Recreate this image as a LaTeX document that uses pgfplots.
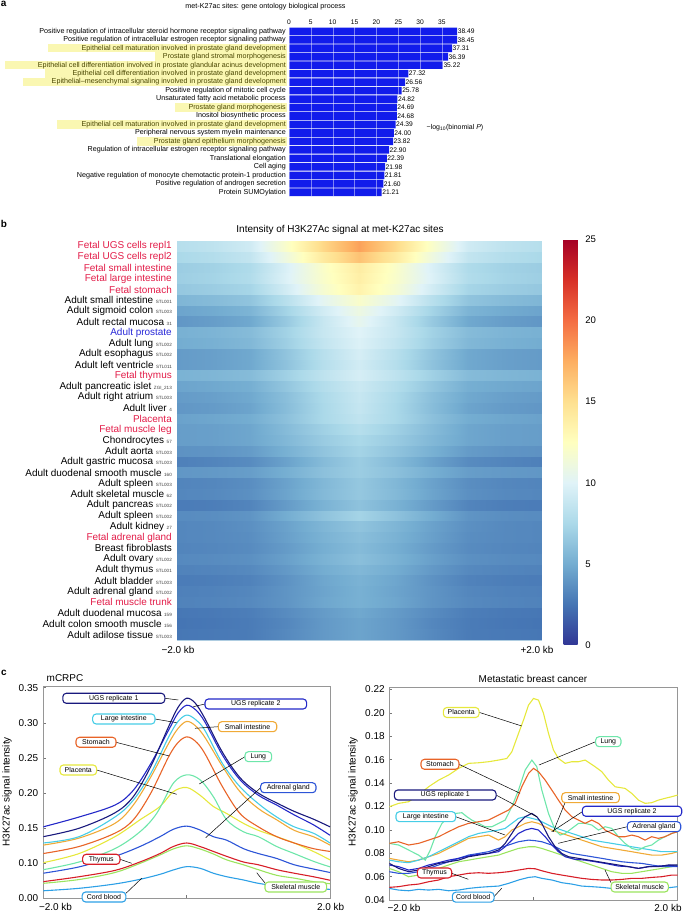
\documentclass[border=0pt]{standalone}
\usepackage{fontspec}
\setmainfont{Liberation Sans}
\usepackage{pgfplots}
\pgfplotsset{compat=1.18}
\pgfkeys{/pgf/number format/assume math mode=true}
\definecolor{barblue}{RGB}{18,28,235}
\definecolor{hly}{RGB}{240,230,0}
\definecolor{fred}{RGB}{226,28,72}
\definecolor{pblue}{RGB}{40,40,215}
\definecolor{hmframe}{RGB}{175,205,225}
\definecolor{axgrey}{RGB}{150,150,150}
\definecolor{tkgrey}{RGB}{120,120,120}
\definecolor{sfxgrey}{RGB}{60,60,60}
\definecolor{cUa}{RGB}{25,25,125}
\definecolor{cUb}{RGB}{35,40,200}
\definecolor{cLI}{RGB}{70,205,230}
\definecolor{cSI}{RGB}{240,170,55}
\definecolor{cST}{RGB}{232,100,40}
\definecolor{cLU}{RGB}{110,230,170}
\definecolor{cPL}{RGB}{230,232,60}
\definecolor{cAD}{RGB}{45,85,215}
\definecolor{cTH}{RGB}{215,30,40}
\definecolor{cSK}{RGB}{155,228,95}
\definecolor{cCB}{RGB}{45,160,230}
\newcommand\fs[1]{\fontsize{#1}{#1}\selectfont}
\newcommand\sfx[1]{{\fontsize{4.6}{5}\selectfont\color{sfxgrey}\hspace{2.5bp}#1}}
\newcommand\fe[1]{\textcolor{fred}{#1}}
\tikzset{box/.style={draw=#1, line width=1.1bp, rounded corners=3.5bp, fill=white, minimum height=10bp, inner sep=0pt, font=\fs{7}, text=black},
conn/.style={line width=0.5bp, black}}
\begin{document}
\begin{tikzpicture}[x=1bp,y=1bp]
\path[use as bounding box] (0,0) rectangle (685,913);
% ---------------- panel a ----------------
\node[font=\bfseries\fs{10}, anchor=north west, inner sep=0pt] at (0.8,912.2) {a};
\node[font=\fs{7.2}] at (265.5,906) {met-K27ac sites: gene ontology biological process};
\begin{axis}[
  at={(289bp,716.5bp)}, anchor=south west, scale only axis,
  width=174.8bp, height=169.4bp,
  xmin=0, xmax=40, ymin=0.5, ymax=20.5, y dir=reverse,
  axis line style={draw=none}, major tick length=0pt,
  xtick={0,5,10,15,20,25,30,35}, xtick pos=right, xticklabel pos=right,
  xticklabel style={font=\fs{6.7}, inner sep=0pt, yshift=2bp},
  ytick={1,...,20}, ytick pos=left,
  yticklabel style={font=\fs{7.2}, inner sep=0pt, xshift=-3bp},
  yticklabels={
    {Positive regulation of intracellular steroid hormone receptor signaling pathway},
    {Positive regulation of intracellular estrogen receptor signaling pathway},
    {Epithelial cell maturation involved in prostate gland development},
    {Prostate gland stromal morphogenesis},
    {Epithelial cell differentiation involved in prostate glandular acinus development},
    {Epithelial cell differentiation involved in prostate gland development},
    {Epithelial–mesenchymal signaling involved in prostate gland development},
    {Positive regulation of mitotic cell cycle},
    {Unsaturated fatty acid metabolic process},
    {Prostate gland morphogenesis},
    {Inositol biosynthetic process},
    {Epithelial cell maturation involved in prostate gland development},
    {Peripheral nervous system myelin maintenance},
    {Prostate gland epithelium morphogenesis},
    {Regulation of intracellular estrogen receptor signaling pathway},
    {Translational elongation},
    {Cell aging},
    {Negative regulation of monocyte chemotactic protein-1 production},
    {Positive regulation of androgen secretion},
    {Protein SUMOylation}},
  xmajorgrids, grid style={white, line width=0.35bp, opacity=0.45},
  axis on top, clip=false,
]
\addplot[xbar, bar width=7.6bp, fill=barblue, draw=none, point meta=x,
  nodes near coords={\pgfmathprintnumber[fixed,fixed zerofill,precision=2]{\pgfplotspointmeta}},
  every node near coord/.append style={anchor=west, font=\fs{6.7}, inner sep=0.4bp, black}]
coordinates {(38.49,1) (38.45,2) (37.31,3) (36.39,4) (35.22,5) (27.32,6) (26.56,7) (25.78,8) (24.82,9) (24.69,10) (24.68,11) (24.39,12) (24.00,13) (23.82,14) (22.90,15) (22.39,16) (21.98,17) (21.81,18) (21.60,19) (21.21,20)};
\end{axis}
\begin{scope}[fill=hly, fill opacity=0.3]
\fill (48,869.0) rectangle (286.5,860.5);
\fill (155,860.5) rectangle (286.5,852.05);
\fill (5,852.05) rectangle (286.5,843.6);
\fill (45,843.6) rectangle (286.5,835.1);
\fill (23,835.1) rectangle (286.5,826.65);
\fill (175,809.7) rectangle (286.5,801.25);
\fill (57,792.75) rectangle (286.5,784.3);
\fill (137,775.8) rectangle (286.5,767.35);
\end{scope}
\node[font=\fs{7}] at (455,785) {−log\textsubscript{10}(binomial \textit{P})};
% ---------------- panel b ----------------
\node[font=\bfseries\fs{10}] at (4,689) {b};
\node[font=\fs{10}] at (340,683) {Intensity of H3K27Ac signal at met-K27ac sites};
\begin{axis}[
  at={(177bp,273bp)}, anchor=south west, scale only axis, width=364bp, height=399bp,
  xmin=-2, xmax=2, ymin=0.5, ymax=37.5, y dir=reverse,
  colormap={rdylbu}{rgb255=(49,54,149) rgb255=(69,117,180) rgb255=(116,173,209) rgb255=(171,217,233) rgb255=(224,243,248) rgb255=(255,255,191) rgb255=(254,224,144) rgb255=(253,174,97) rgb255=(244,109,67) rgb255=(215,48,39) rgb255=(165,0,38)},
  point meta min=0, point meta max=25,
  xtick=\empty, ytick={1,...,37}, major tick length=0pt,
  axis line style={draw=hmframe, line width=0.6bp},
  yticklabel style={font=\fs{10}, inner sep=0pt, xshift=-5bp},
  yticklabels={
    {\fe{Fetal UGS cells repl1}},{\fe{Fetal UGS cells repl2}},{\fe{Fetal small intestine}},{\fe{Fetal large intestine}},{\fe{Fetal stomach}},
    {Adult small intestine\sfx{STL001}},{Adult sigmoid colon\sfx{STL003}},{Adult rectal mucosa\sfx{31}},{\textcolor{pblue}{Adult prostate}},
    {Adult lung\sfx{STL002}},{Adult esophagus\sfx{STL002}},{Adult left ventricle\sfx{STL011}},{\fe{Fetal thymus}},
    {Adult pancreatic islet\sfx{ZGI\_213}},{Adult right atrium\sfx{STL003}},{Adult liver\sfx{4}},{\fe{Placenta}},{\fe{Fetal muscle leg}},
    {Chondrocytes\sfx{57}},{Adult aorta\sfx{STL003}},{Adult gastric mucosa\sfx{STL003}},{Adult duodenal smooth muscle\sfx{160}},
    {Adult spleen\sfx{STL003}},{Adult skeletal muscle\sfx{62}},{Adult pancreas\sfx{STL002}},{Adult spleen\sfx{STL002}},{Adult kidney\sfx{27}},
    {\fe{Fetal adrenal gland}},{Breast fibroblasts},{Adult ovary\sfx{STL002}},{Adult thymus\sfx{STL001}},{Adult bladder\sfx{STL003}},
    {Adult adrenal gland\sfx{STL002}},{\fe{Fetal muscle trunk}},{Adult duodenal mucosa\sfx{159}},{Adult colon smooth muscle\sfx{156}},
    {Adult adilose tissue\sfx{STL003}}},
  colorbar,
  colorbar style={at={(parent axis.north east)}, anchor=north west, xshift=14bp, yshift=1.7bp,
    scale only axis, width=17.3bp, height=405.7bp, ytick={0,5,10,15,20,25},
    major tick length=0pt, axis line style={draw=none},
    yticklabel style={font=\fs{9.6}, inner sep=0pt, xshift=4.4bp}},
]
\addplot[surf, shader=interp, mesh/cols=11, point meta=explicit]
table[header=false, row sep=\\, x expr={-2+0.4*mod(\coordindex,11)}, y expr={ceil(floor((\coordindex+0.5)/11)/2)+0.5}, meta index=0]{
8\\8.4\\9.2\\12\\15.4\\18\\15.4\\12\\9.2\\8.4\\8\\
8\\8.4\\9.2\\12\\15.4\\18\\15.4\\12\\9.2\\8.4\\8\\
7.5\\7.9\\8.6\\11.1\\14.2\\16.5\\14.2\\11.1\\8.6\\7.9\\7.5\\
7.5\\7.9\\8.6\\11.1\\14.2\\16.5\\14.2\\11.1\\8.6\\7.9\\7.5\\
6.8\\7.1\\7.7\\9.7\\12.1\\14\\12.1\\9.7\\7.7\\7.1\\6.8\\
6.8\\7.1\\7.7\\9.7\\12.1\\14\\12.1\\9.7\\7.7\\7.1\\6.8\\
6.9\\7.2\\7.8\\9.8\\12\\13.8\\12\\9.8\\7.8\\7.2\\6.9\\
6.9\\7.2\\7.8\\9.8\\12\\13.8\\12\\9.8\\7.8\\7.2\\6.9\\
6.5\\6.8\\7.3\\9.3\\11.7\\13.5\\11.7\\9.3\\7.3\\6.8\\6.5\\
6.5\\6.8\\7.3\\9.3\\11.7\\13.5\\11.7\\9.3\\7.3\\6.8\\6.5\\
5.5\\5.8\\6.3\\8.1\\10.3\\12\\10.3\\8.1\\6.3\\5.8\\5.5\\
5.5\\5.8\\6.3\\8.1\\10.3\\12\\10.3\\8.1\\6.3\\5.8\\5.5\\
4.6\\4.9\\5.4\\7.2\\9.3\\11\\9.3\\7.2\\5.4\\4.9\\4.6\\
4.6\\4.9\\5.4\\7.2\\9.3\\11\\9.3\\7.2\\5.4\\4.9\\4.6\\
4\\4.3\\4.8\\6.6\\8.8\\10.5\\8.8\\6.6\\4.8\\4.3\\4\\
4\\4.3\\4.8\\6.6\\8.8\\10.5\\8.8\\6.6\\4.8\\4.3\\4\\
5.2\\5.4\\5.8\\7.1\\8.8\\10\\8.8\\7.1\\5.8\\5.4\\5.2\\
5.2\\5.4\\5.8\\7.1\\8.8\\10\\8.8\\7.1\\5.8\\5.4\\5.2\\
5\\5.2\\5.6\\6.9\\8.6\\9.8\\8.6\\6.9\\5.6\\5.2\\5\\
5\\5.2\\5.6\\6.9\\8.6\\9.8\\8.6\\6.9\\5.6\\5.2\\5\\
4.2\\4.4\\4.8\\6.3\\8.1\\9.5\\8.1\\6.3\\4.8\\4.4\\4.2\\
4.2\\4.4\\4.8\\6.3\\8.1\\9.5\\8.1\\6.3\\4.8\\4.4\\4.2\\
4.2\\4.4\\4.8\\6.2\\8\\9.3\\8\\6.2\\4.8\\4.4\\4.2\\
4.2\\4.4\\4.8\\6.2\\8\\9.3\\8\\6.2\\4.8\\4.4\\4.2\\
5.3\\5.5\\5.8\\7\\8.4\\9.5\\8.4\\7\\5.8\\5.5\\5.3\\
5.3\\5.5\\5.8\\7\\8.4\\9.5\\8.4\\7\\5.8\\5.5\\5.3\\
4.6\\4.8\\5.1\\6.4\\7.9\\9\\7.9\\6.4\\5.1\\4.8\\4.6\\
4.6\\4.8\\5.1\\6.4\\7.9\\9\\7.9\\6.4\\5.1\\4.8\\4.6\\
4.2\\4.4\\4.8\\6\\7.6\\8.8\\7.6\\6\\4.8\\4.4\\4.2\\
4.2\\4.4\\4.8\\6\\7.6\\8.8\\7.6\\6\\4.8\\4.4\\4.2\\
4\\4.2\\4.6\\5.9\\7.5\\8.7\\7.5\\5.9\\4.6\\4.2\\4\\
4\\4.2\\4.6\\5.9\\7.5\\8.7\\7.5\\5.9\\4.6\\4.2\\4\\
4.5\\4.7\\5\\6.1\\7.5\\8.5\\7.5\\6.1\\5\\4.7\\4.5\\
4.5\\4.7\\5\\6.1\\7.5\\8.5\\7.5\\6.1\\5\\4.7\\4.5\\
4.3\\4.4\\4.7\\5.8\\7\\8\\7\\5.8\\4.7\\4.4\\4.3\\
4.3\\4.4\\4.7\\5.8\\7\\8\\7\\5.8\\4.7\\4.4\\4.3\\
4.3\\4.4\\4.7\\5.6\\6.7\\7.5\\6.7\\5.6\\4.7\\4.4\\4.3\\
4.3\\4.4\\4.7\\5.6\\6.7\\7.5\\6.7\\5.6\\4.7\\4.4\\4.3\\
3.8\\3.9\\4.2\\5.2\\6.3\\7.2\\6.3\\5.2\\4.2\\3.9\\3.8\\
3.8\\3.9\\4.2\\5.2\\6.3\\7.2\\6.3\\5.2\\4.2\\3.9\\3.8\\
3\\3.2\\3.5\\4.5\\5.8\\6.8\\5.8\\4.5\\3.5\\3.2\\3\\
3\\3.2\\3.5\\4.5\\5.8\\6.8\\5.8\\4.5\\3.5\\3.2\\3\\
4\\4.1\\4.3\\5.1\\6.1\\6.8\\6.1\\5.1\\4.3\\4.1\\4\\
4\\4.1\\4.3\\5.1\\6.1\\6.8\\6.1\\5.1\\4.3\\4.1\\4\\
3.2\\3.3\\3.6\\4.5\\5.6\\6.5\\5.6\\4.5\\3.6\\3.3\\3.2\\
3.2\\3.3\\3.6\\4.5\\5.6\\6.5\\5.6\\4.5\\3.6\\3.3\\3.2\\
3.3\\3.4\\3.7\\4.6\\5.7\\6.5\\5.7\\4.6\\3.7\\3.4\\3.3\\
3.3\\3.4\\3.7\\4.6\\5.7\\6.5\\5.7\\4.6\\3.7\\3.4\\3.3\\
2.8\\2.9\\3.2\\4.2\\5.3\\6.2\\5.3\\4.2\\3.2\\2.9\\2.8\\
2.8\\2.9\\3.2\\4.2\\5.3\\6.2\\5.3\\4.2\\3.2\\2.9\\2.8\\
3.5\\3.6\\3.9\\5\\6.2\\7.2\\6.2\\5\\3.9\\3.6\\3.5\\
3.5\\3.6\\3.9\\5\\6.2\\7.2\\6.2\\5\\3.9\\3.6\\3.5\\
3.3\\3.4\\3.7\\4.5\\5.5\\6.3\\5.5\\4.5\\3.7\\3.4\\3.3\\
3.3\\3.4\\3.7\\4.5\\5.5\\6.3\\5.5\\4.5\\3.7\\3.4\\3.3\\
3.3\\3.4\\3.6\\4.4\\5.3\\6\\5.3\\4.4\\3.6\\3.4\\3.3\\
3.3\\3.4\\3.6\\4.4\\5.3\\6\\5.3\\4.4\\3.6\\3.4\\3.3\\
3.2\\3.3\\3.5\\4.2\\5.1\\5.8\\5.1\\4.2\\3.5\\3.3\\3.2\\
3.2\\3.3\\3.5\\4.2\\5.1\\5.8\\5.1\\4.2\\3.5\\3.3\\3.2\\
3.4\\3.5\\3.7\\4.4\\5.3\\6\\5.3\\4.4\\3.7\\3.5\\3.4\\
3.4\\3.5\\3.7\\4.4\\5.3\\6\\5.3\\4.4\\3.7\\3.5\\3.4\\
3.1\\3.2\\3.4\\4.1\\5\\5.6\\5\\4.1\\3.4\\3.2\\3.1\\
3.1\\3.2\\3.4\\4.1\\5\\5.6\\5\\4.1\\3.4\\3.2\\3.1\\
2.8\\2.9\\3.1\\3.8\\4.7\\5.3\\4.7\\3.8\\3.1\\2.9\\2.8\\
2.8\\2.9\\3.1\\3.8\\4.7\\5.3\\4.7\\3.8\\3.1\\2.9\\2.8\\
3\\3.1\\3.3\\3.9\\4.6\\5.2\\4.6\\3.9\\3.3\\3.1\\3\\
3\\3.1\\3.3\\3.9\\4.6\\5.2\\4.6\\3.9\\3.3\\3.1\\3\\
3.1\\3.2\\3.4\\3.9\\4.7\\5.2\\4.7\\3.9\\3.4\\3.2\\3.1\\
3.1\\3.2\\3.4\\3.9\\4.7\\5.2\\4.7\\3.9\\3.4\\3.2\\3.1\\
2.6\\2.7\\2.9\\3.5\\4.2\\4.8\\4.2\\3.5\\2.9\\2.7\\2.6\\
2.6\\2.7\\2.9\\3.5\\4.2\\4.8\\4.2\\3.5\\2.9\\2.7\\2.6\\
2.5\\2.6\\2.8\\3.3\\4.1\\4.6\\4.1\\3.3\\2.8\\2.6\\2.5\\
2.5\\2.6\\2.8\\3.3\\4.1\\4.6\\4.1\\3.3\\2.8\\2.6\\2.5\\
2.6\\2.7\\2.8\\3.4\\4.1\\4.6\\4.1\\3.4\\2.8\\2.7\\2.6\\
2.6\\2.7\\2.8\\3.4\\4.1\\4.6\\4.1\\3.4\\2.8\\2.7\\2.6\\
};
\end{axis}
\node[font=\fs{10}] at (178,263) {−2.0 kb};
\node[font=\fs{10}] at (537,263) {+2.0 kb};
% ---------------- panel c left ----------------
\node[font=\bfseries\fs{10}] at (4,240) {c};
\node[font=\fs{10}] at (65,235) {mCRPC};
\node[font=\fs{10}, rotate=90] at (7,121.3) {H3K27ac signal intensity};
\begin{axis}[
  at={(43.3bp,14.5bp)}, anchor=south west, scale only axis, width=286.7bp, height=212.2bp,
  xmin=-2, xmax=2, ymin=0.05, ymax=0.352,
  xtick={0}, xticklabels={}, ytick={0.05,0.10,0.15,0.20,0.25,0.30,0.35},
  yticklabels={0.00,0.10,0.15,0.20,0.25,0.30,0.35},
  tick pos=left, tick align=inside, major tick length=3bp,
  axis line style={draw=axgrey, line width=0.6bp},
  tick style={draw=tkgrey, line width=0.6bp},
  yticklabel style={font=\fs{10}, inner sep=0pt, xshift=-5bp},
  every axis plot/.append style={line width=1.1bp, no markers, smooth, tension=0.55},
]
\addplot[cCB] coordinates {(-2,0.061) (-1.5,0.0645) (-1,0.0707) (-0.651,0.0773) (-0.372,0.0844) (-0.186,0.0906) (0,0.0953) (0.186,0.093) (0.372,0.086) (0.558,0.081) (0.791,0.0764) (1,0.0716) (1.256,0.068) (1.5,0.066) (1.767,0.0645) (2,0.063)};
\addplot[cSK] coordinates {(-2,0.0716) (-1.5,0.077) (-1,0.087) (-0.651,0.100) (-0.372,0.112) (-0.186,0.1205) (0,0.125) (0.186,0.1205) (0.372,0.1134) (0.558,0.105) (0.791,0.098) (1,0.091) (1.256,0.083) (1.5,0.079) (1.767,0.074) (2,0.071)};
\addplot[cTH] coordinates {(-2,0.074) (-1.5,0.081) (-1,0.090) (-0.651,0.102) (-0.372,0.114) (-0.186,0.124) (0,0.129) (0.186,0.124) (0.372,0.117) (0.558,0.110) (0.791,0.102) (1,0.098) (1.256,0.091) (1.5,0.086) (1.767,0.081) (2,0.076)};
\addplot[cAD] coordinates {(-2,0.086) (-1.5,0.095) (-1,0.110) (-0.651,0.124) (-0.372,0.138) (-0.186,0.1485) (0,0.153) (0.186,0.1475) (0.372,0.138) (0.558,0.133) (0.791,0.121) (1,0.114) (1.256,0.107) (1.5,0.098) (1.767,0.092) (2,0.087)};
\addplot[cPL] coordinates {(-2,0.101) (-1.5,0.114) (-1,0.138) (-0.651,0.162) (-0.372,0.181) (-0.186,0.202) (0,0.208) (0.186,0.197) (0.372,0.181) (0.558,0.171) (0.791,0.157) (1,0.147) (1.256,0.138) (1.5,0.129) (1.767,0.117) (2,0.105)};
\addplot[cLU] coordinates {(-2,0.091) (-1.5,0.102) (-1,0.121) (-0.651,0.145) (-0.419,0.171) (-0.186,0.214) (0,0.226) (0.186,0.219) (0.372,0.195) (0.558,0.162) (0.791,0.145) (1,0.138) (1.256,0.124) (1.5,0.114) (1.767,0.103) (2,0.095)};
\addplot[cST] coordinates {(-2,0.114) (-1.5,0.124) (-1,0.143) (-0.744,0.162) (-0.5,0.200) (-0.25,0.252) (-0.12,0.272) (0,0.280) (0.12,0.274) (0.25,0.257) (0.5,0.209) (0.744,0.171) (1,0.152) (1.256,0.138) (1.5,0.129) (1.767,0.121) (2,0.117)};
\addplot[cSI] coordinates {(-2,0.126) (-1.5,0.136) (-1,0.157) (-0.744,0.183) (-0.5,0.223) (-0.25,0.271) (-0.12,0.292) (0,0.302) (0.12,0.296) (0.25,0.280) (0.5,0.238) (0.744,0.202) (1,0.178) (1.256,0.162) (1.5,0.147) (1.767,0.138) (2,0.126)};
\addplot[cLI] coordinates {(-2,0.129) (-1.5,0.138) (-1,0.166) (-0.744,0.190) (-0.5,0.228) (-0.25,0.280) (-0.12,0.302) (0,0.311) (0.12,0.305) (0.25,0.290) (0.5,0.242) (0.744,0.209) (1,0.185) (1.256,0.166) (1.5,0.152) (1.767,0.143) (2,0.129)};
\addplot[cUb] coordinates {(-2,0.152) (-1.5,0.166) (-1,0.183) (-0.744,0.204) (-0.5,0.242) (-0.25,0.290) (-0.12,0.314) (0,0.325) (0.12,0.319) (0.25,0.302) (0.5,0.254) (0.744,0.219) (1,0.197) (1.256,0.183) (1.5,0.169) (1.767,0.155) (2,0.140)};
\addplot[cUa] coordinates {(-2,0.138) (-1.5,0.150) (-1,0.172) (-0.744,0.195) (-0.5,0.238) (-0.25,0.295) (-0.12,0.322) (0,0.335) (0.12,0.328) (0.25,0.307) (0.5,0.258) (0.744,0.222) (1,0.200) (1.256,0.186) (1.5,0.174) (1.767,0.163) (2,0.152)};
\end{axis}
\node[font=\fs{10}] at (55.5,6.3) {−2.0 kb};
\node[font=\fs{10}] at (330.7,6.3) {2.0 kb};
\draw[conn] (165,214.7)--(178.3,213);
\draw[conn] (205,209)--(193.3,206.3);
\draw[conn] (155,194)--(176.7,190.3);
\draw[conn] (218.3,186.3)--(195,184.7);
\draw[conn] (116,170.7)--(169.3,157);
\draw[conn] (245,156.3)--(199.3,129);
\draw[conn] (96.7,143)--(176.7,118.7);
\draw[conn] (260.7,125.3)--(205.7,75.3);
\draw[conn] (120,53.7)--(131.7,49.7);
\draw[conn] (265,30)--(256.7,40.3);
\draw[conn] (126,19.7)--(141.7,34.7);
\node[box=cUa, minimum width=102bp] at (113.8,214.7) {UGS replicate 1};
\node[box=cUb, minimum width=101.7bp] at (255.8,209) {UGS replicate 2};
\node[box=cLI, minimum width=62.3bp] at (123.8,194) {Large intestine};
\node[box=cSI, minimum width=58.4bp] at (247.5,186.3) {Small intestine};
\node[box=cST, minimum width=40bp] at (96,170.7) {Stomach};
\node[box=cLU, minimum width=26.7bp] at (258.3,156.3) {Lung};
\node[box=cPL, minimum width=36.7bp] at (78.3,143) {Placenta};
\node[box=cAD, minimum width=55.3bp] at (288.3,125.3) {Adrenal gland};
\node[box=cTH, minimum width=37.3bp] at (101.3,53.7) {Thymus};
\node[box=cSK, minimum width=61.7bp] at (295.8,26) {Skeletal muscle};
\node[box=cCB, minimum width=43.7bp] at (104,16) {Cord blood};
% ---------------- panel c right ----------------
\node[font=\fs{10}] at (533,234) {Metastatic breast cancer};
\node[font=\fs{10}, rotate=90] at (353,121.3) {H3K27ac signal intensity};
\begin{axis}[
  at={(389.3bp,13bp)}, anchor=south west, scale only axis, width=288.4bp, height=212.9bp,
  xmin=-2, xmax=2, ymin=0.04, ymax=0.222,
  xtick={0}, xticklabels={}, ytick={0.04,0.06,0.08,0.10,0.12,0.14,0.16,0.18,0.20,0.22},
  yticklabels={0.04,0.06,0.08,0.10,0.12,0.14,0.16,0.18,0.20,0.22},
  tick pos=left, tick align=inside, major tick length=3bp,
  axis line style={draw=axgrey, line width=0.6bp},
  tick style={draw=tkgrey, line width=0.6bp},
  yticklabel style={font=\fs{10}, inner sep=0pt, xshift=-4.5bp},
  every axis plot/.append style={line width=1.1bp, no markers},
]
\addplot[cCB] coordinates {(-2,0.0499) (-1.871,0.0485) (-1.732,0.0479) (-1.594,0.0491) (-1.455,0.0485) (-1.316,0.0491) (-1.178,0.0479) (-1.039,0.0485) (-0.901,0.0499) (-0.762,0.0508) (-0.624,0.0514) (-0.485,0.0519) (-0.346,0.0542) (-0.208,0.0571) (-0.069,0.0593) (0.023,0.0599) (0.115,0.0585) (0.254,0.0571) (0.393,0.0548) (0.531,0.0536) (0.670,0.0519) (0.808,0.0514) (0.947,0.0508) (1.085,0.0499) (1.224,0.0499) (1.363,0.0491) (1.501,0.0491) (1.640,0.0499) (1.778,0.0499) (1.917,0.0508) (2,0.0514)};
\addplot[cTH] coordinates {(-2,0.0508) (-1.871,0.0514) (-1.732,0.0528) (-1.594,0.0536) (-1.455,0.0556) (-1.316,0.0571) (-1.178,0.0599) (-1.039,0.0613) (-0.901,0.0628) (-0.762,0.0633) (-0.624,0.0628) (-0.485,0.0633) (-0.346,0.0642) (-0.208,0.0656) (-0.069,0.067) (0.023,0.0667) (0.115,0.065) (0.254,0.0628) (0.393,0.0613) (0.531,0.0599) (0.670,0.0585) (0.808,0.0576) (0.947,0.0571) (1.085,0.0571) (1.224,0.0576) (1.363,0.0585) (1.501,0.0585) (1.640,0.0593) (1.778,0.0599) (1.917,0.0613) (2,0.0613)};
\addplot[cSK] coordinates {(-2,0.067) (-1.871,0.0642) (-1.732,0.0599) (-1.594,0.0613) (-1.455,0.0642) (-1.316,0.067) (-1.178,0.0699) (-1.039,0.0727) (-0.901,0.0741) (-0.762,0.0756) (-0.624,0.077) (-0.485,0.0784) (-0.346,0.0813) (-0.208,0.0841) (-0.069,0.0855) (0.023,0.0855) (0.115,0.0841) (0.254,0.0813) (0.393,0.0784) (0.531,0.0756) (0.670,0.0727) (0.808,0.0699) (0.947,0.067) (1.085,0.0642) (1.224,0.0628) (1.363,0.0628) (1.501,0.0642) (1.640,0.0656) (1.778,0.067) (1.917,0.0685) (2,0.0699)};
\addplot[cAD] coordinates {(-2,0.0642) (-1.871,0.0628) (-1.732,0.0628) (-1.594,0.0642) (-1.455,0.067) (-1.316,0.0699) (-1.178,0.0727) (-1.039,0.0756) (-0.901,0.0784) (-0.762,0.0798) (-0.624,0.0813) (-0.485,0.0841) (-0.346,0.087) (-0.208,0.0898) (-0.069,0.0912) (0.023,0.0907) (0.115,0.0898) (0.254,0.087) (0.393,0.0827) (0.531,0.0798) (0.670,0.0784) (0.808,0.077) (0.947,0.0756) (1.085,0.0741) (1.224,0.0727) (1.363,0.0719) (1.501,0.0713) (1.640,0.0699) (1.778,0.0685) (1.917,0.0685) (2,0.0685)};
\addplot[cSI] coordinates {(-2,0.0756) (-1.871,0.0741) (-1.732,0.0727) (-1.594,0.0741) (-1.455,0.077) (-1.316,0.0798) (-1.178,0.0841) (-1.039,0.0884) (-0.901,0.0927) (-0.762,0.0941) (-0.624,0.0955) (-0.485,0.0912) (-0.393,0.0941) (-0.300,0.0998) (-0.208,0.1026) (-0.115,0.1055) (-0.023,0.1069) (0.069,0.1055) (0.162,0.1026) (0.254,0.0998) (0.393,0.0969) (0.531,0.0941) (0.670,0.0912) (0.808,0.0884) (0.947,0.0855) (1.085,0.0841) (1.224,0.0827) (1.363,0.0813) (1.501,0.0798) (1.640,0.0784) (1.778,0.0784) (1.917,0.0798) (2,0.0813)};
\addplot[cLI] coordinates {(-2,0.0741) (-1.871,0.0727) (-1.732,0.0719) (-1.594,0.0741) (-1.455,0.077) (-1.316,0.0813) (-1.178,0.0855) (-1.039,0.0898) (-0.901,0.0941) (-0.762,0.0969) (-0.624,0.0984) (-0.485,0.0998) (-0.393,0.1012) (-0.300,0.1055) (-0.208,0.1098) (-0.115,0.1112) (-0.023,0.1098) (0.069,0.1083) (0.162,0.1055) (0.254,0.1026) (0.393,0.0998) (0.531,0.0969) (0.670,0.0941) (0.808,0.0912) (0.947,0.0898) (1.085,0.0884) (1.224,0.087) (1.363,0.0855) (1.501,0.0841) (1.640,0.0827) (1.778,0.0813) (1.917,0.0813) (2,0.0813)};
\addplot[cLU] coordinates {(-2,0.0884) (-1.871,0.087) (-1.732,0.0827) (-1.594,0.0784) (-1.501,0.0741) (-1.432,0.0827) (-1.363,0.0941) (-1.270,0.1055) (-1.178,0.1112) (-1.085,0.114) (-0.993,0.1146) (-0.924,0.1112) (-0.855,0.1083) (-0.762,0.1055) (-0.670,0.1026) (-0.577,0.1026) (-0.485,0.1055) (-0.393,0.1083) (-0.300,0.1197) (-0.208,0.134) (-0.115,0.1511) (-0.023,0.1596) (0.046,0.1539) (0.115,0.134) (0.208,0.114) (0.300,0.0998) (0.370,0.0955) (0.439,0.0969) (0.531,0.1012) (0.624,0.1055) (0.716,0.1055) (0.808,0.1041) (0.901,0.0998) (0.993,0.1026) (1.085,0.1012) (1.178,0.0941) (1.270,0.0884) (1.363,0.0841) (1.455,0.0827) (1.547,0.0855) (1.640,0.087) (1.732,0.0912) (1.824,0.0941) (1.917,0.0969) (2,0.0984)};
\addplot[cST] coordinates {(-2,0.0884) (-1.871,0.0898) (-1.732,0.087) (-1.594,0.0884) (-1.455,0.0912) (-1.316,0.0941) (-1.178,0.0984) (-1.039,0.1026) (-0.901,0.1055) (-0.762,0.1069) (-0.624,0.1083) (-0.485,0.1126) (-0.346,0.1169) (-0.254,0.1226) (-0.162,0.1368) (-0.069,0.1482) (0,0.1525) (0.069,0.1497) (0.162,0.1425) (0.254,0.134) (0.346,0.1254) (0.439,0.1169) (0.531,0.1112) (0.624,0.1083) (0.716,0.1055) (0.808,0.1083) (0.901,0.1055) (0.993,0.0998) (1.085,0.0969) (1.178,0.0941) (1.270,0.0941) (1.363,0.0955) (1.455,0.0941) (1.547,0.0912) (1.640,0.0941) (1.732,0.0927) (1.824,0.0941) (1.917,0.0969) (2,0.0984)};
\addplot[cUb] coordinates {(-2,0.0699) (-1.871,0.0685) (-1.732,0.0656) (-1.594,0.067) (-1.455,0.0699) (-1.316,0.0719) (-1.178,0.0741) (-1.039,0.0756) (-0.901,0.0776) (-0.762,0.079) (-0.624,0.0798) (-0.485,0.0813) (-0.393,0.0855) (-0.300,0.0912) (-0.208,0.0969) (-0.115,0.0998) (-0.023,0.1012) (0.069,0.0998) (0.162,0.0941) (0.254,0.087) (0.346,0.0813) (0.439,0.077) (0.577,0.0747) (0.716,0.0741) (0.855,0.0727) (0.993,0.0713) (1.178,0.069) (1.316,0.0685) (1.455,0.067) (1.594,0.0685) (1.732,0.069) (1.871,0.0696) (2,0.069)};
\addplot[cUa] coordinates {(-2,0.0713) (-1.871,0.067) (-1.732,0.0642) (-1.594,0.0656) (-1.455,0.0685) (-1.316,0.0713) (-1.178,0.0727) (-1.039,0.0741) (-0.901,0.077) (-0.762,0.0784) (-0.624,0.0798) (-0.485,0.0827) (-0.393,0.0884) (-0.300,0.0969) (-0.208,0.1055) (-0.115,0.1112) (-0.023,0.114) (0.046,0.1112) (0.115,0.1055) (0.208,0.0941) (0.300,0.0855) (0.393,0.0798) (0.485,0.077) (0.624,0.0756) (0.762,0.0741) (0.901,0.0727) (1.039,0.0713) (1.178,0.0699) (1.316,0.0685) (1.455,0.067) (1.594,0.0685) (1.732,0.0685) (1.871,0.0699) (2,0.0699)};
\addplot[cPL] coordinates {(-2,0.1197) (-1.871,0.1226) (-1.732,0.124) (-1.594,0.1297) (-1.455,0.1368) (-1.316,0.1425) (-1.178,0.1468) (-1.039,0.1525) (-0.901,0.1568) (-0.762,0.1573) (-0.624,0.1582) (-0.485,0.1596) (-0.370,0.161) (-0.300,0.1667) (-0.208,0.1824) (-0.139,0.1938) (-0.069,0.2066) (0,0.2123) (0.069,0.2109) (0.139,0.1995) (0.208,0.1824) (0.277,0.1682) (0.346,0.161) (0.439,0.1568) (0.531,0.1582) (0.624,0.1582) (0.716,0.1596) (0.785,0.1568) (0.855,0.1539) (0.947,0.1497) (1.039,0.1425) (1.132,0.1368) (1.270,0.1354) (1.363,0.1311) (1.455,0.1254) (1.547,0.1226) (1.640,0.1232) (1.732,0.1254) (1.824,0.1269) (1.917,0.1283) (2,0.1297)};
\end{axis}
\node[font=\fs{10}] at (404,4.7) {−2.0 kb};
\node[font=\fs{10}] at (668,4.7) {2.0 kb};
\draw[conn] (479,200.7)--(521.7,187);
\draw[conn] (595.7,171.3)--(539,148);
\draw[conn] (459,148.7)--(520,119.7);
\draw[conn] (496,118)--(536.7,96.3);
\draw[conn] (565,110.3)--(553.3,81.3);
\draw[conn] (582.3,101.3)--(551.7,81.3);
\draw[conn] (455.7,96.3)--(505,78);
\draw[conn] (627.3,86.3)--(558.3,69.7);
\draw[conn] (451.7,39.7)--(468.3,33.7);
\draw[conn] (611,30.3)--(605,43);
\draw[conn] (494,16.3)--(501.7,24.7);
\node[box=cPL, minimum width=35.7bp] at (461.2,200.5) {Placenta};
\node[box=cLU, minimum width=25.3bp] at (608.3,171.3) {Lung};
\node[box=cST, minimum width=38bp] at (440,148.7) {Stomach};
\node[box=cUa, minimum width=101.7bp] at (445.2,118) {UGS replicate 1};
\node[box=cSI, minimum width=57.6bp] at (590.5,115.3) {Small intestine};
\node[box=cUb, minimum width=99.4bp] at (632,101.7) {UGS replicate 2};
\node[box=cLI, minimum width=59.7bp] at (425.8,96.3) {Large intestine};
\node[box=cAD, minimum width=53.4bp] at (654,86.3) {Adrenal gland};
\node[box=cTH, minimum width=34.4bp] at (434.5,40) {Thymus};
\node[box=cSK, minimum width=57.3bp] at (639.7,26) {Skeletal muscle};
\node[box=cCB, minimum width=41.7bp] at (473.2,15.8) {Cord blood};
\end{tikzpicture}
\end{document}
